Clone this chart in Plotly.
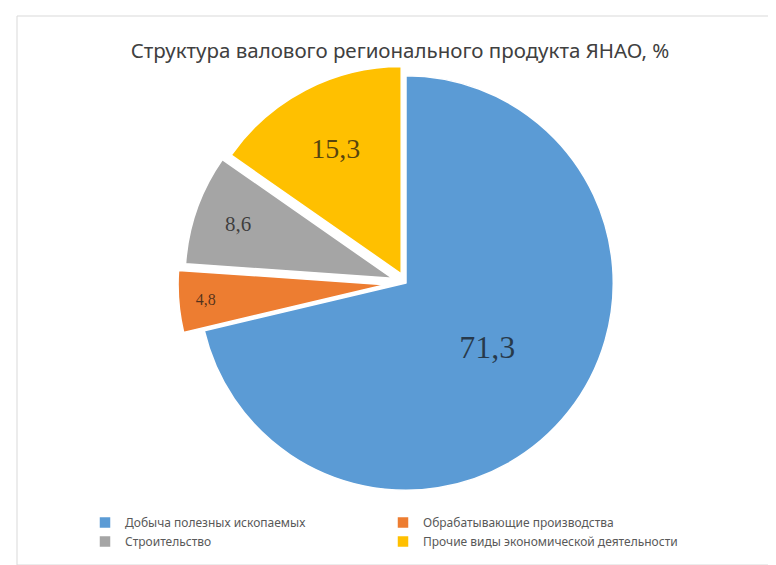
import plotly.graph_objects as go

categories = ["Добыча полезных ископаемых", "Обрабатывающие производства",
              "Строительство", "Прочие виды экономической деятельности"]
values = [71.3, 4.8, 8.6, 15.3]
value_labels = [f"{v:.1f}".replace(".", ",") for v in values]

colors = ["#5B9BD5", "#ED7D31", "#A5A5A5", "#FFC000"]
pulls = [0, 0.1, 0.07, 0.05]
label_sizes = [32, 16, 21, 28]

W, H = 776, 565
cx, cy, half = 398, 275, 228

fig = go.Figure(go.Pie(
    labels=categories,
    values=values,
    text=value_labels,
    textinfo="text",
    textposition="inside",
    insidetextorientation="horizontal",
    textfont=dict(family="Liberation Serif", size=label_sizes, color="rgba(20,20,20,0.72)"),
    marker=dict(colors=colors, line=dict(color="white", width=1.5)),
    pull=pulls,
    sort=False,
    direction="clockwise",
    rotation=0,
    hoverinfo="skip",
    domain=dict(x=[(cx - half) / W, (cx + half) / W], y=[1 - (cy + half) / H, 1 - (cy - half) / H]),
))

fig.update_layout(
    width=W, height=H,
    margin=dict(l=0, r=0, t=0, b=0),
    paper_bgcolor="white",
    title=dict(text="Структура валового регионального продукта ЯНАО, %",
               x=392 / W, xanchor="center", y=1 - 43 / H, yanchor="middle",
               font=dict(family="Noto Sans", size=20.5, color="#404040")),
    legend=dict(orientation="h", x=77 / W, xanchor="left", y=1 - 500 / H, yanchor="top",
                entrywidth=253, entrywidthmode="pixels",
                font=dict(family="Noto Sans", size=12, color="#595959"),
                bgcolor="rgba(0,0,0,0)"),
    shapes=[dict(type="rect", xref="paper", yref="paper",
                 x0=9 / W, x1=(W - 4) / W, y0=1 - 557 / H, y1=1 - 8 / H,
                 line=dict(color="#D9D9D9", width=1), fillcolor="rgba(0,0,0,0)", layer="below")],
)

fig.write_html("out.html")
